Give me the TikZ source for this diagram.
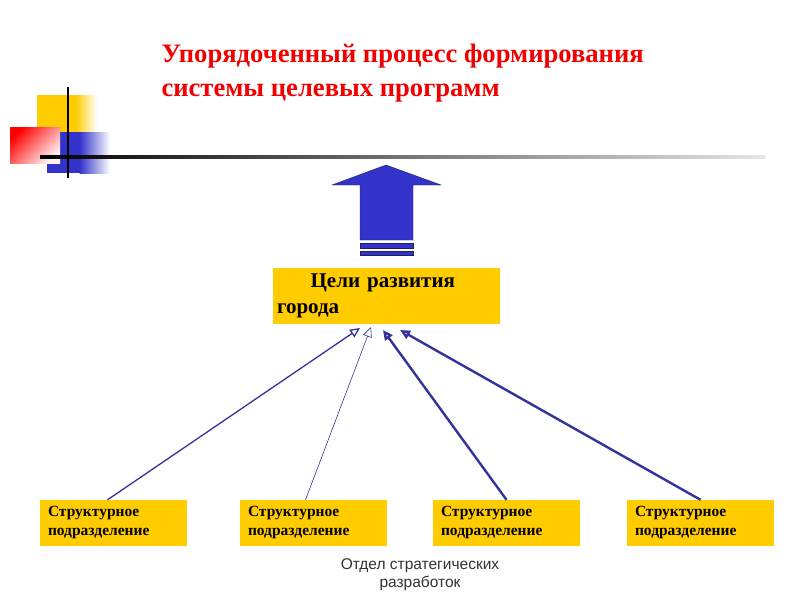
\documentclass[tikz,border=0pt]{standalone}
\usepackage{fontspec}
\setmainfont{Liberation Serif}
\newfontfamily\footfont{Liberation Sans}
\usetikzlibrary{arrows.meta}

\definecolor{boxyellow}{HTML}{FFCC00}
\definecolor{linkblue}{HTML}{333399}
\definecolor{bigblue}{HTML}{3333CC}
\definecolor{titlered}{HTML}{F00000}

\tikzset{
  unitbox/.style={fill=boxyellow, minimum width=147pt, minimum height=46pt,
    text width=131pt, align=left, inner sep=0pt,
    font=\fontsize{15.5}{19}\selectfont\bfseries},
  link/.style={draw=linkblue, -{Triangle[open,length=10pt,width=9pt]}}
}

\def\Y{523}

\begin{document}
\begin{tikzpicture}[x=1pt,y=-1pt]
    \useasboundingbox[fill=white] (0,0) rectangle (800,600);
    % corner emblem
    \fill[boxyellow] (37,95) rectangle (76,133);
    \shade[left color=boxyellow, right color=white] (75.5,95) rectangle (97,133);
    \fill[bigblue] (47,132) rectangle (80,173);
    \shade[left color=bigblue, right color=white] (79.5,132) rectangle (110,173);
    \shade[top color=red, bottom color=red!5, shading angle=45]
      (10,127) rectangle (60,163);
    \shade[left color=black, middle color=black, right color=black!10]
      (40,155.5) rectangle (765,158.5);
    \draw[line width=2pt] (68,87) -- (68,178);
    \node (title) [anchor=north west, align=left, text=titlered,
      font=\fontsize{26.6}{34}\selectfont\bfseries] at (158,41)
      {Упорядоченный процесс формирования\\системы целевых программ};
    % big arrow
    \draw[fill=bigblue, draw=linkblue!60!black]
      (386,165) -- (441,185) -- (413,185) -- (413,240) -- (360,240)
      -- (360,185) -- (332,185) -- cycle;
    \draw[fill=bigblue, draw=linkblue!60!black] (360,243) rectangle (413,248);
    \draw[fill=bigblue, draw=linkblue!60!black] (360,251) rectangle (413,255);
    % goal
    \node (goal) [fill=boxyellow, minimum width=227pt, minimum height=56pt,
      text width=219pt, align=left, inner sep=0pt,
      font=\fontsize{21}{26}\selectfont\bfseries] at (386.5,296)
      {\hspace*{1.6em}Цели развития\\города};
    \coordinate (a1) at (360,328);
    \coordinate (a2) at (371,327);
    \coordinate (a3) at (383,330);
    \coordinate (a4) at (400,330);
    % units
    \node (s1) [unitbox] at (113.5,\Y) {Структурное\\подразделение};
    \node (s2) [unitbox] at (313.5,\Y) {Структурное\\подразделение};
    \node (s3) [unitbox] at (506.5,\Y) {Структурное\\подразделение};
    \node (s4) [unitbox] at (700.5,\Y) {Структурное\\подразделение};
    \draw[link, line width=1.3pt] ([xshift=-6pt]s1.north) -- (a1);
    \draw[link, line width=0.6pt] ([xshift=-8pt]s2.north) -- (a2);
    \draw[link, line width=2.4pt] (s3.north) -- (a3);
    \draw[link, line width=2.4pt] (s4.north) -- (a4);
    % footer
    \node (dept) [align=center, text=black!80,
      font=\footfont\fontsize{15.5}{18}\selectfont] at (420,575)
      {Отдел стратегических\\разработок};
\end{tikzpicture}
\end{document}
